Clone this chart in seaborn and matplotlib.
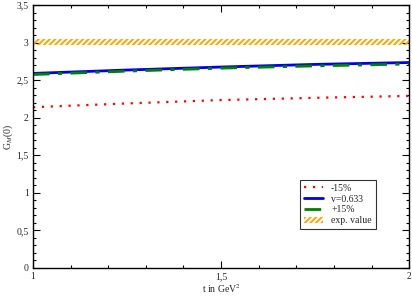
import matplotlib
matplotlib.use("Agg")
import matplotlib.pyplot as plt
import seaborn as sns
import numpy as np
import pandas as pd
from matplotlib.patches import Patch
from matplotlib.ticker import MultipleLocator, FuncFormatter

# values
t_vals = [1.0, 1.25, 1.5, 1.75, 2.0]
g_moins15 = [2.14, 2.19, 2.235, 2.265, 2.29]
g_centre = [2.59, 2.635, 2.675, 2.71, 2.735]
g_plus15 = [2.575, 2.62, 2.66, 2.69, 2.715]
exp_bas = 2.97
exp_haut = 3.05
labels = ["-15%", "v=0.633", "+15%", "exp. value"]

sns.set_theme(style="ticks")
plt.rcParams["font.family"] = ["Liberation Serif", "DejaVu Serif"]
plt.rcParams["hatch.linewidth"] = 1.4
plt.rcParams["mathtext.fontset"] = "stix"

fig = plt.figure(figsize=(4.12, 2.98), dpi=100)
ax = fig.add_axes([0.080, 0.101, 0.913, 0.882])

df = pd.DataFrame({"t": t_vals * 3,
                   "G": g_moins15 + g_centre + g_plus15,
                   "serie": [labels[0]] * 5 + [labels[1]] * 5 + [labels[2]] * 5})

sns.lineplot(data=df[df.serie == labels[0]], x="t", y="G", ax=ax, color="red",
             linestyle=(0, (1, 3)), linewidth=1.6, label=labels[0])
sns.lineplot(data=df[df.serie == labels[1]], x="t", y="G", ax=ax, color="#0000ee",
             linewidth=2.0, label=labels[1])
sns.lineplot(data=df[df.serie == labels[2]], x="t", y="G", ax=ax, color="#008000",
             linestyle=(0, (6, 3, 1.5, 3)), linewidth=2.0, label=labels[2])

ax.fill_between([1.0, 2.0], exp_bas, exp_haut, facecolor="none", edgecolor="#ffa500",
                hatch="//////", linewidth=0)

ax.set_xlim(1, 2)
ax.set_ylim(0, 3.5)
ax.xaxis.set_major_locator(MultipleLocator(0.5))
ax.xaxis.set_minor_locator(MultipleLocator(0.1))
ax.yaxis.set_major_locator(MultipleLocator(0.5))
ax.yaxis.set_minor_locator(MultipleLocator(0.1))
virgule = FuncFormatter(lambda v, p: f"{v:g}".replace(".", ","))
ax.xaxis.set_major_formatter(virgule)
ax.yaxis.set_major_formatter(virgule)
ax.tick_params(which="both", direction="in", top=True, right=True, labelsize=7,
               width=0.8, color="black")
ax.tick_params(which="major", length=5, pad=3)
ax.tick_params(which="minor", length=2.5)
for s in ax.spines.values():
    s.set_linewidth(1.0)
    s.set_color("black")

ax.set_xlabel("t in GeV$^2$", fontsize=7, labelpad=1)
ax.set_ylabel("G$_M$(0)", fontsize=7, labelpad=1)

handles, _ = ax.get_legend_handles_labels()
handles.append(Patch(facecolor="none", edgecolor="#ffa500", hatch="//////", linewidth=0))
leg = ax.legend(handles=handles, labels=labels, loc="upper left",
                bbox_to_anchor=(0.697, 0.354), fontsize=7, frameon=True,
                fancybox=False, edgecolor="black", handlelength=2.0,
                handletextpad=0.8, borderpad=0.4, labelspacing=0.2)
leg.get_frame().set_linewidth(0.8)

fig.savefig("out.png", dpi=100)
plt.close()
